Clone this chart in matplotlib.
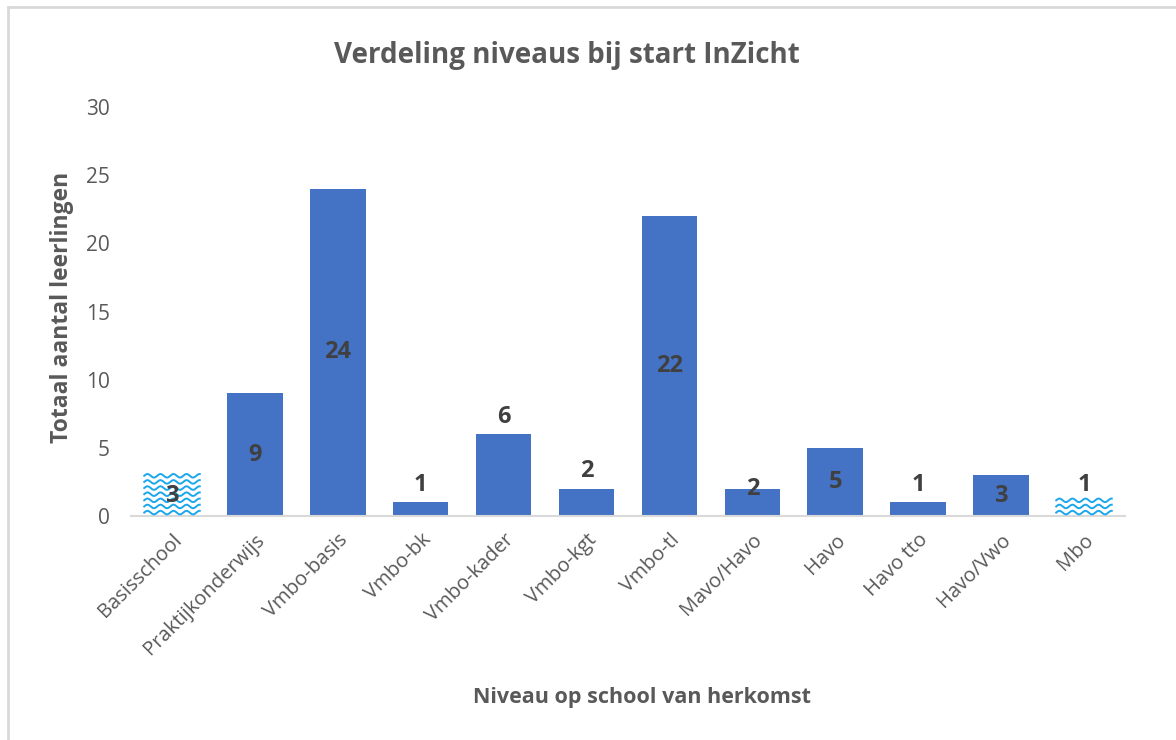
import numpy as np
import matplotlib
matplotlib.use("Agg")
import matplotlib.pyplot as plt
from matplotlib.lines import Line2D

# -----------------------------
# Datos
# -----------------------------
niveaus = ["Basisschool", "Praktijkonderwijs", "Vmbo-basis", "Vmbo-bk", "Vmbo-kader",
           "Vmbo-kgt", "Vmbo-tl", "Mavo/Havo", "Havo", "Havo tto", "Havo/Vwo", "Mbo"]
aantallen = [3, 9, 24, 1, 6, 2, 22, 2, 5, 1, 3, 1]
# welke balken het golfpatroon hebben
gearceerd = [True, False, False, False, False, False, False, False, False, False, False, True]
# plaats van het label: midden, boven of op de top
label_plek = ["mid", "mid", "mid", "boven", "boven", "boven", "mid", "top", "mid", "boven", "mid", "boven"]

titel = "Verdeling niveaus bij start InZicht"
x_titel = "Niveau op school van herkomst"
y_titel = "Totaal aantal leerlingen"

blauw = "#4472C4"
golf_kleur = "#1AA7EC"
grijs = "#595959"
donker = "#404040"

plt.rcParams['font.family'] = ['Open Sans', 'DejaVu Sans']

fig = plt.figure(figsize=(11.76, 7.4), dpi=100)
ax = fig.add_axes([0.111, 0.3027, 0.846, 0.5527])

x = np.arange(len(niveaus))
bars = ax.bar(x, aantallen, width=0.67, color=blauw, zorder=2)

# golfpatroon voor de gearceerde balken
for b, g in zip(bars, gearceerd):
    if not g:
        continue
    b.set_facecolor("white")
    x0, w, h = b.get_x(), b.get_width(), b.get_height()
    xs = np.linspace(x0, x0 + w, 200)
    y = 0.25
    while y < h + 0.3:
        ys = y + 0.13 * np.sin((xs - x0) / 0.157 * 2 * np.pi)
        ln = Line2D(xs, ys, color=golf_kleur, lw=1.4, zorder=3)
        ln.set_clip_path(b)
        ax.add_line(ln)
        y += 0.45

# labels
for xi, v, plek in zip(x, aantallen, label_plek):
    if plek == "mid":
        ax.text(xi, v / 2, str(v), ha="center", va="center", fontsize=17,
                fontweight="bold", color=donker, zorder=4)
    elif plek == "top":
        ax.text(xi, v, str(v), ha="center", va="center", fontsize=17,
                fontweight="bold", color=donker, zorder=4)
    else:
        ax.annotate(str(v), (xi, v), xytext=(0, 4), textcoords="offset points",
                    ha="center", va="bottom", fontsize=17, fontweight="bold",
                    color=donker, zorder=4)

ax.set_xlim(-0.5, len(niveaus) - 0.5)
ax.set_ylim(0, 30)
ax.set_yticks(range(0, 31, 5))
ax.set_xticks(x)
ax.set_xticklabels(niveaus, rotation=45, ha="right", rotation_mode="anchor")
ax.tick_params(axis="both", length=0, labelcolor=grijs)
ax.tick_params(axis="y", pad=15, labelsize=15)
ax.tick_params(axis="x", pad=10, labelsize=14.5)

for s in ["top", "right", "left"]:
    ax.spines[s].set_visible(False)
ax.spines["bottom"].set_color("#D9D9D9")
ax.spines["bottom"].set_linewidth(1.5)

fig.text(0.053, 0.585, y_titel, rotation=90, ha="center", va="center",
         fontsize=16.5, fontweight="bold", color=grijs)
fig.text(0.546, 0.058, x_titel, ha="center", va="center",
         fontsize=15.5, fontweight="bold", color=grijs)
fig.text(0.482, 0.925, titel, ha="center", va="center",
         fontsize=20, fontweight="bold", color=grijs)

# rand rond de grafiek
fig.add_artist(Line2D([0.0068, 0.0068], [0, 0.9905], transform=fig.transFigure,
                      color="#D9D9D9", lw=2))
fig.add_artist(Line2D([0.0068, 1], [0.9905, 0.9905], transform=fig.transFigure,
                      color="#D9D9D9", lw=2))

fig.savefig("out.png", dpi=100, facecolor="white")
